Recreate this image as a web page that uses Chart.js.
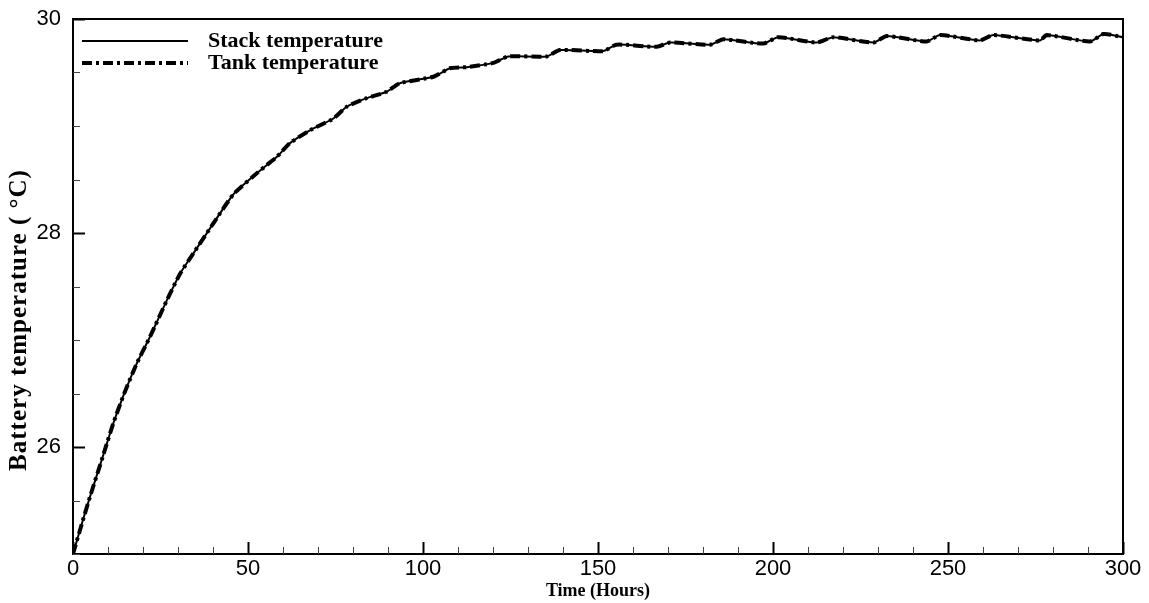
<!DOCTYPE html>
<html>
<head>
<meta charset="utf-8">
<script src="https://cdn.jsdelivr.net/npm/chart.js@4/dist/chart.umd.min.js"></script>
<style>
  html, body { margin: 0; padding: 0; background: #fff; }
  #wrap { width: 1149px; height: 603px; }
</style>
</head>
<body>
<div id="wrap"><canvas id="tempChart" width="1149" height="603"></canvas></div>
<script>
// Values
const timeHours = [0, 2.5, 4.9, 8.7, 11.5, 14.4, 18.2, 22, 26.8, 30.6, 34.4, 40.1, 45.8, 51.5, 56.3,
  58.2, 62, 67.7, 74.4, 78.2, 83.9, 89.6, 93.4, 103, 107.7, 112.5, 120.1, 124.4, 135.3, 139.1,
  151.5, 155.3, 166.8, 170.6, 182, 185.8, 197.2, 201.5, 212.5, 217.2, 228.7, 232.5, 243.9, 247.7,
  259.1, 262.9, 276.3, 278.2, 290.6, 294.4, 300];
const stackTemp = [25.00, 25.28, 25.54, 25.93, 26.22, 26.48, 26.78, 27.03, 27.37, 27.62, 27.81, 28.09, 28.36, 28.53, 28.66,
  28.71, 28.84, 28.96, 29.07, 29.18, 29.26, 29.32, 29.40, 29.46, 29.54, 29.55, 29.59, 29.65, 29.65, 29.71,
  29.70, 29.76, 29.74, 29.78, 29.76, 29.81, 29.77, 29.83, 29.78, 29.83, 29.78, 29.84, 29.79, 29.85,
  29.80, 29.85, 29.80, 29.85, 29.79, 29.86, 29.83];
// tank curve lies on top of the stack curve
const tankTemp = [25.00, 25.28, 25.54, 25.93, 26.22, 26.48, 26.78, 27.03, 27.37, 27.62, 27.81, 28.09, 28.36, 28.53, 28.66,
  28.71, 28.84, 28.96, 29.07, 29.18, 29.26, 29.32, 29.40, 29.46, 29.54, 29.55, 29.59, 29.65, 29.65, 29.71,
  29.70, 29.76, 29.74, 29.78, 29.76, 29.81, 29.77, 29.83, 29.78, 29.83, 29.78, 29.84, 29.79, 29.85,
  29.80, 29.85, 29.80, 29.85, 29.79, 29.86, 29.83];
const seriesNames = ["Stack temperature", "Tank temperature"];
const xLabelTicks = [0, 50, 100, 150, 200, 250, 300];
const yLabelTicks = [26, 28, 30];

const SANS = "'Liberation Sans', Arial, sans-serif";
const SERIF = "'Liberation Serif', 'Times New Roman', serif";
const TANK_DASH = [10, 4, 3, 4];

const toPoints = (xs, ys) => xs.map((x, i) => ({ x, y: ys[i] }));

// frame, inward ticks, legend and y title
const framePlugin = {
  id: 'frame',
  afterDatasetsDraw(chart) {
    const { ctx, chartArea: a, scales } = chart;
    ctx.save();
    ctx.strokeStyle = '#000';

    // top + right frame
    ctx.lineWidth = 2;
    ctx.beginPath();
    ctx.moveTo(a.left, a.top);
    ctx.lineTo(a.right, a.top);
    ctx.lineTo(a.right, a.bottom);
    ctx.stroke();

    // x ticks pointing up into the plot
    scales.x.ticks.forEach(t => {
      const px = Math.round(scales.x.getPixelForValue(t.value)) + 0.5;
      const major = xLabelTicks.includes(t.value);
      ctx.lineWidth = major ? 2 : 1;
      ctx.strokeStyle = major ? '#000' : '#444';
      ctx.beginPath();
      ctx.moveTo(px, a.bottom);
      ctx.lineTo(px, a.bottom - (major ? 12 : 7));
      ctx.stroke();
    });

    // y ticks pointing right into the plot
    scales.y.ticks.forEach(t => {
      const py = Math.round(scales.y.getPixelForValue(t.value)) + 0.5;
      const major = yLabelTicks.includes(t.value);
      ctx.lineWidth = major ? 2 : 1;
      ctx.strokeStyle = major ? '#000' : '#444';
      ctx.beginPath();
      ctx.moveTo(a.left, py);
      ctx.lineTo(a.left + (major ? 12 : 7), py);
      ctx.stroke();
    });

    // legend
    const legendRows = [
      { y: 41, text: seriesNames[0], width: 2, dash: [] },
      { y: 63, text: seriesNames[1], width: 4, dash: TANK_DASH }
    ];
    ctx.strokeStyle = '#000';
    ctx.fillStyle = '#000';
    ctx.font = `bold 22px ${SERIF}`;
    ctx.textBaseline = 'middle';
    legendRows.forEach(r => {
      ctx.lineWidth = r.width;
      ctx.setLineDash(r.dash);
      ctx.beginPath();
      ctx.moveTo(82, r.y);
      ctx.lineTo(188, r.y);
      ctx.stroke();
      ctx.setLineDash([]);
      ctx.fillText(r.text, 208, r.y);
    });

    // y axis title
    ctx.translate(20, 320);
    ctx.rotate(-Math.PI / 2);
    ctx.textAlign = 'center';
    ctx.font = `bold 25px ${SERIF}`;
    ctx.letterSpacing = '1px';
    ctx.fillText('Battery temperature ( \u00B0C)', 0, 0);
    ctx.restore();
  }
};

const ctx = document.getElementById('tempChart').getContext('2d');
new Chart(ctx, {
  type: 'line',
  data: {
    datasets: [{
      label: seriesNames[0],
      data: toPoints(timeHours, stackTemp),
      borderColor: '#000',
      borderWidth: 2,
      pointRadius: 0,
      tension: 0.2,
      fill: false
    }, {
      label: seriesNames[1],
      data: toPoints(timeHours, tankTemp),
      borderColor: '#000',
      borderWidth: 4,
      borderDash: TANK_DASH,
      pointRadius: 0,
      tension: 0.2,
      fill: false
    }]
  },
  options: {
    responsive: false,
    animation: false,
    layout: { padding: { top: 19, right: 26, left: 0, bottom: 0 } },
    plugins: {
      legend: { display: false },
      tooltip: { enabled: false }
    },
    scales: {
      x: {
        type: 'linear',
        min: 0,
        max: 300,
        afterFit: s => { s.height = 49; },
        grid: { display: false, drawTicks: false },
        border: { display: true, color: '#000', width: 2 },
        ticks: {
          stepSize: 10,
          autoSkip: false,
          maxRotation: 0,
          padding: 2,
          color: '#000',
          font: { family: SANS, size: 22 },
          callback: v => xLabelTicks.includes(v) ? String(v) : ''
        },
        title: {
          display: true,
          text: 'Time (Hours)',
          color: '#000',
          font: { family: SERIF, size: 18, weight: 'bold' },
          padding: { top: 0, bottom: 1 }
        }
      },
      y: {
        min: 25,
        max: 30,
        afterFit: s => { s.width = 73; s.paddingTop = 0; s.paddingBottom = 0; },
        grid: { display: false, drawTicks: false },
        border: { display: true, color: '#000', width: 2 },
        ticks: {
          stepSize: 0.5,
          autoSkip: false,
          padding: 12,
          color: '#000',
          font: { family: SANS, size: 22 },
          callback: v => yLabelTicks.includes(v) ? String(v) : ''
        }
      }
    }
  },
  plugins: [framePlugin]
});
</script>
</body>
</html>
